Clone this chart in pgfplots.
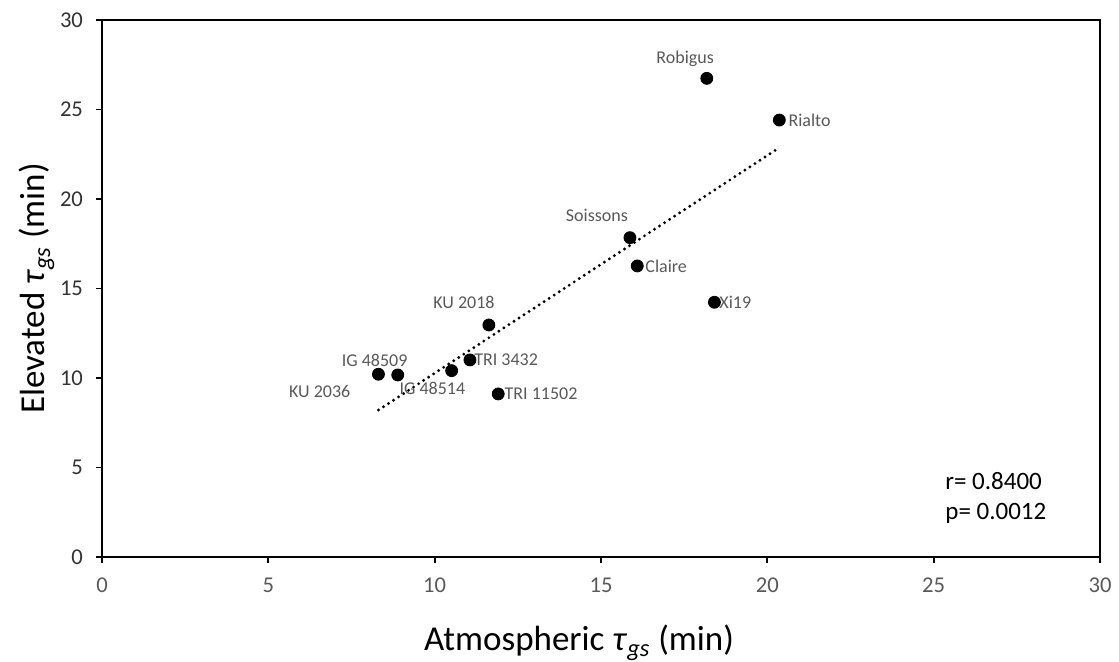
\documentclass[border=0pt]{standalone}
\usepackage{fontspec}
\setmainfont{Carlito}
\usepackage{pgfplots}
\pgfplotsset{compat=1.18}
\definecolor{tickgray}{HTML}{595959}
\definecolor{ytickcol}{HTML}{333333}
\definecolor{labgray}{HTML}{595959}
\begin{document}
\begin{tikzpicture}
\begin{axis}[
  at={(0,0)}, anchor=south west,
  scale only axis,
  width=499pt, height=268.5pt,
  xmin=0, xmax=30, ymin=0, ymax=30,
  xtick={0,5,...,30}, ytick={0,5,...,30},
  xtick pos=bottom, ytick pos=left,
  tick align=outside,
  major tick length=3pt,
  axis line style={line width=1pt},
  every tick/.style={line width=0.9pt, black},
  /pgf/number format/assume math mode=true,
  xticklabel style={font=\fontsize{11.3}{12}\selectfont, text=tickgray, yshift=-4pt},
  yticklabel style={font=\fontsize{11.3}{12}\selectfont, text=ytickcol, xshift=-3pt},
  xlabel={Atmospheric \textit{τ}\textsubscript{\textit{gs}} (min)},
  ylabel={Elevated \textit{τ}\textsubscript{\textit{gs}} (min)},
  xlabel style={at={([xshift=-11pt,yshift=-47pt]axis description cs:0.5,0)}, anchor=base, font=\fontsize{17.5}{19}\selectfont},
  ylabel style={at={([xshift=-28.5pt]axis description cs:0,0.5)}, anchor=base, rotate=0, font=\fontsize{17.5}{19}\selectfont},
  clip=false,
]
% trend line
\addplot[black, line width=1.6pt, dash pattern=on 0pt off 3pt, line cap=round] coordinates {(8.31,8.21) (20.36,22.87)};
% data points
\addplot[only marks, mark=*, mark size=3pt, black] coordinates {
(18.18,26.74) (20.36,24.41) (15.87,17.84) (16.09,16.26) (18.41,14.23)
(11.63,12.96) (11.06,11.01) (10.51,10.41) (8.89,10.17) (8.31,10.21) (11.91,9.11)
};
\begin{scope}[every node/.style={font=\fontsize{9}{10}\selectfont, text=labgray, inner sep=0pt}]
\node[anchor=center, xshift=-10.8pt, yshift=10pt] at (axis cs:18.18,26.74) {Robigus};
\node[anchor=west, xshift=4.4pt] at (axis cs:20.36,24.41) {Rialto};
\node[anchor=center, xshift=-16.5pt, yshift=11pt] at (axis cs:15.87,17.84) {Soissons};
\node[anchor=west, xshift=3.9pt] at (axis cs:16.09,16.26) {Claire};
\node[anchor=west, xshift=2.3pt] at (axis cs:18.41,14.23) {Xi19};
\node[anchor=center, xshift=-12.5pt, yshift=11.2pt] at (axis cs:11.63,12.96) {KU 2018};
\node[anchor=west, xshift=2pt] at (axis cs:11.06,11.01) {TRI 3432};
\node[anchor=center, xshift=-9.6pt, yshift=-8.8pt] at (axis cs:10.51,10.41) {IG 48514};
\node[anchor=center, xshift=-39pt, yshift=-8.5pt] at (axis cs:8.89,10.17) {KU 2036};
\node[anchor=center, xshift=-1.9pt, yshift=6.9pt] at (axis cs:8.31,10.21) {IG 48509};
\node[anchor=west, xshift=3pt] at (axis cs:11.91,9.11) {TRI 11502};
\end{scope}
\node[anchor=west, inner sep=0pt, font=\fontsize{12.5}{14}\selectfont] at (axis cs:25.34,4.25) {r= 0.8400};
\node[anchor=west, inner sep=0pt, font=\fontsize{12.5}{14}\selectfont] at (axis cs:25.34,2.46) {p= 0.0012};
\end{axis}
\pgfresetboundingbox
\path (-51pt,-52.5pt) rectangle (508.5pt,278.5pt);
\end{tikzpicture}
\end{document}
